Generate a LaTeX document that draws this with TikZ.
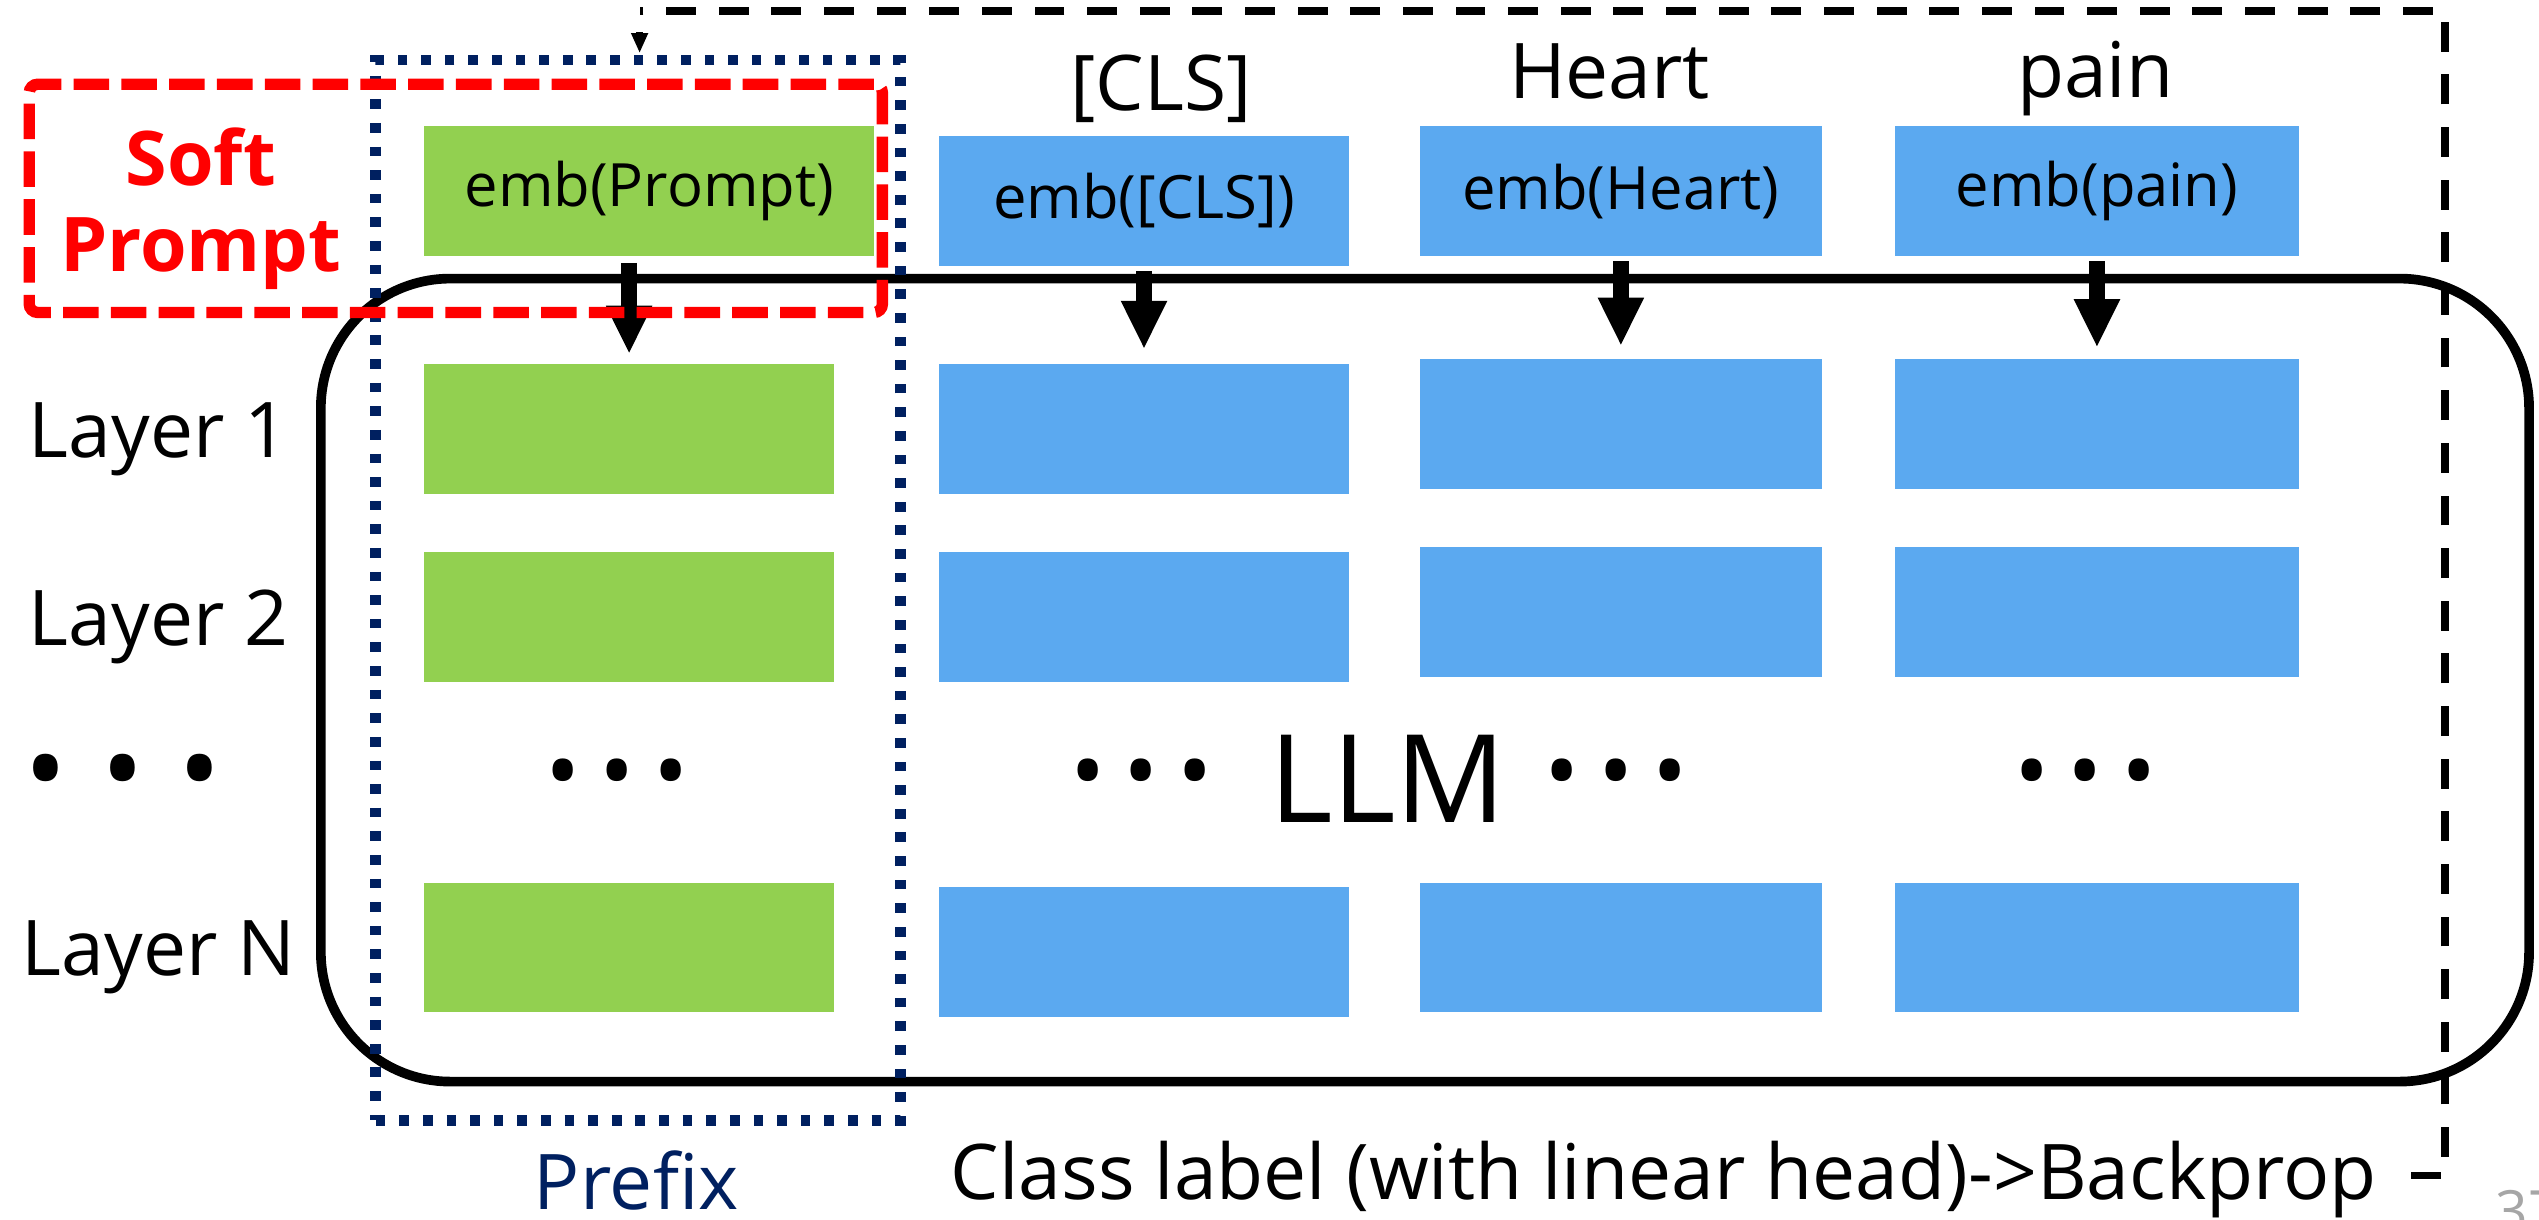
\documentclass[tikz,border=0pt]{standalone}
\usepackage{fontspec}
\setmainfont{Open Sans}
\usetikzlibrary{arrows.meta,calc}
\definecolor{pgreen}{HTML}{92D050}
\definecolor{pblue}{HTML}{5BA9F0}
\definecolor{pnavy}{HTML}{002060}
\definecolor{pgray}{HTML}{A6A6A6}
\newcommand{\bdots}[1]{\mbox{•\hspace{#1}•\hspace{#1}•}}
\begin{document}
\begin{tikzpicture}[x=0.02cm,y=-0.02cm,
  box/.style={inner sep=0pt, minimum height=1.6cm, font=\fontsize{21}{25}\selectfont},
  gbox/.style={box, fill=pgreen, minimum width=5.06cm},
  bbox/.style={box, fill=pblue},
  lbl/.style={font=\fontsize{27}{32}\selectfont, inner sep=0pt},
  dotsbig/.style={font=\fontsize{40}{42}\selectfont, inner sep=0pt},
  dotssmall/.style={font=\fontsize{33}{35}\selectfont, inner sep=0pt},
  bigarrow/.style={line width=5.9pt, -{Triangle[width=15pt,length=17pt]}},
  llmbox/.style={draw, line width=3.4pt, rounded corners=1.6cm, inner sep=0pt},
  prefixbox/.style={draw=pnavy, line width=3.7pt, dash pattern=on 3.4pt off 4.9pt, inner sep=0pt},
  softbox/.style={draw=red, line width=4pt, dash pattern=on 12.5pt off 4.3pt, rounded corners=3pt, inner sep=0pt},
  fb/.style={line width=2.7pt, dash pattern=on 10.5pt off 8pt},
  fbtip/.style={line width=2.7pt, -{Triangle[width=5.5pt,length=7pt]}}
]
\useasboundingbox (0,0) rectangle (1568,753);

% LLM container
\node[llmbox, minimum width=27.28cm, minimum height=9.92cm] (llm) at (880,420) {};

% green column
\node[gbox, minimum width=5.56cm] (e0) at (401,118) {emb(Prompt)};
\node[gbox] (g1) at (388.5,265) {};
\node[gbox] (g2) at (388.5,381) {};
\node[gbox] (gN) at (388.5,585) {};

% blue column 1
\node[bbox, minimum width=5.06cm] (e1) at (706.5,124) {emb([CLS])};
\node[bbox, minimum width=5.06cm] (b11) at (706.5,265) {};
\node[bbox, minimum width=5.06cm] (b12) at (706.5,381) {};
\node[bbox, minimum width=5.06cm] (b1N) at (706.5,588) {};

% blue column 2
\node[bbox, minimum width=4.96cm] (e2) at (1001,118) {emb(Heart)};
\node[bbox, minimum width=4.96cm] (b21) at (1001,262) {};
\node[bbox, minimum width=4.96cm] (b22) at (1001,378) {};
\node[bbox, minimum width=4.96cm] (b2N) at (1001,585) {};

% blue column 3
\node[bbox, minimum width=5.0cm] (e3) at (1295,118) {emb(pain)};
\node[bbox, minimum width=5.0cm] (b31) at (1295,262) {};
\node[bbox, minimum width=5.0cm] (b32) at (1295,378) {};
\node[bbox, minimum width=5.0cm] (b3N) at (1295,585) {};

% arrows emb -> layer 1
\draw[bigarrow] ($(g1.north|-e0.south)+(0,4)$) -- ($(g1.north)+(0,-6)$);
\draw[bigarrow] ($(e1.south)+(0,3)$) -- ($(b11.north)+(0,-9)$);
\draw[bigarrow] ($(e2.south)+(0,3)$) -- ($(b21.north)+(0,-8)$);
\draw[bigarrow] ($(e3.south)+(0,3)$) -- ($(b31.north)+(0,-7)$);

% prefix and soft prompt frames
\node[prefixbox, minimum width=6.48cm, minimum height=13.1cm] (prefix) at (394,364.5) {};
\node[softbox, minimum width=10.54cm, minimum height=2.82cm] (soft) at (281.5,122.5) {};

% texts
\node[font=\bfseries\fontsize{26.5}{30}\selectfont, text=red, align=center, inner sep=0pt] (softtxt) at (124,129) {Soft\\Prompt};
\node[lbl, anchor=base] (l1) at (98,282.5) {Layer 1};
\node[lbl, anchor=base] (l2) at (98,398.5) {Layer 2};
\node[lbl, anchor=base] (lN) at (98,602.5) {Layer N};
\node[dotsbig] (d0) at (76,483) {\bdots{12pt}};
\node[dotssmall] (d1) at (381,483) {\bdots{6.5pt}};
\node[dotssmall] (d2) at (705,483) {\bdots{6.5pt}};
\node[dotssmall] (d3) at (998,483) {\bdots{6.5pt}};
\node[dotssmall] (d4) at (1288,483) {\bdots{6.5pt}};
\node[font=\fontsize{43}{48}\selectfont, inner sep=0pt, anchor=base] (llmtxt) at (857,508) {LLM};
\node[lbl, anchor=base] (tcls) at (717,68) {[CLS]};
\node[lbl, anchor=base] (theart) at (994,61) {Heart};
\node[lbl, anchor=base] (tpain) at (1294,60) {pain};
\node[lbl, anchor=base, text=pnavy] (pfxtxt) at (393,747) {Prefix};
\node[lbl, anchor=base] (cls) at (1027.5,741) {Class label (with linear head)->Backprop};
\node[anchor=north west, font=\fontsize{20}{24}\selectfont, text=pgray, inner sep=0pt] (pg) at (1541,735) {37};

% feedback dashed line
\coordinate (fbA) at (1489,726);
\coordinate (fbB) at (1510,726);
\coordinate (fbC) at (1510,7);
\coordinate (fbD) at (395,7);
\draw[fb] (fbA) -- (fbB) -- (fbC) -- (fbD);
\draw[fbtip] ($(fbD)+(0,13)$) -- ($(prefix.north-|fbD)+(0,-1)$);
\end{tikzpicture}
\end{document}
